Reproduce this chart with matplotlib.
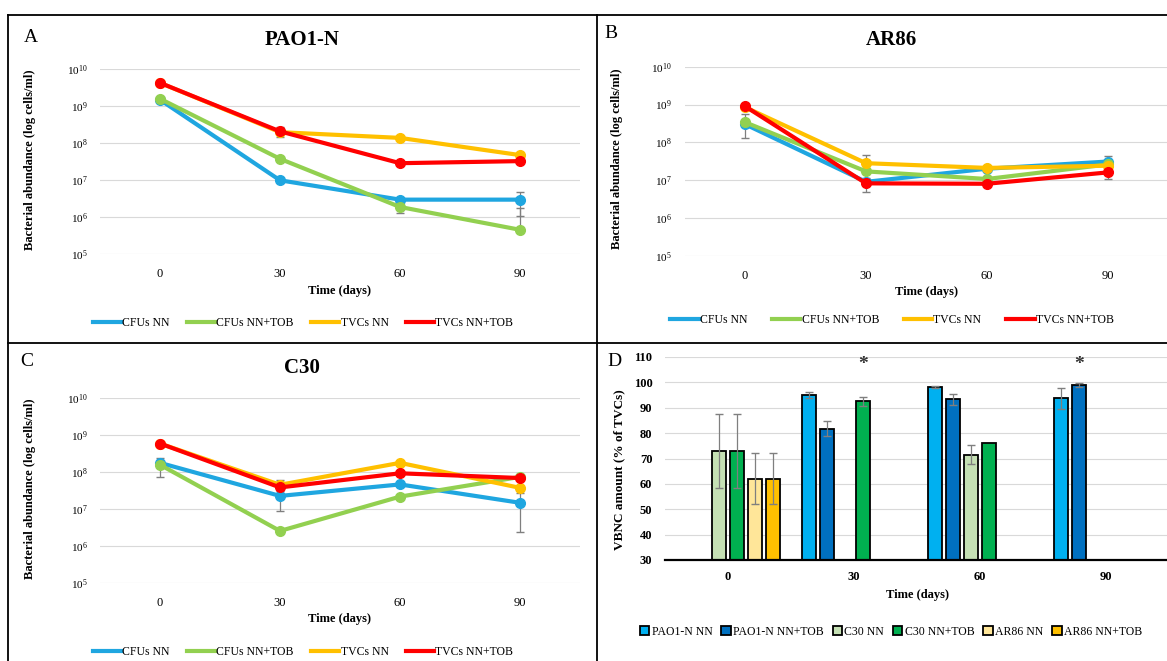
""" Bacterial abundance and VBNC amount over time (panels A-D). """

import matplotlib
matplotlib.use("Agg")
import matplotlib.pyplot as plt
from matplotlib.lines import Line2D
import numpy as np

plt.rcParams['font.family'] = ['Liberation Serif', 'DejaVu Serif']
plt.rcParams['mathtext.fontset'] = 'custom'
plt.rcParams['mathtext.rm'] = 'Liberation Serif'

# ---- data ----
days = ['0', '30', '60', '90']
series_names = ['CFUs NN', 'CFUs NN+TOB', 'TVCs NN', 'TVCs NN+TOB']
series_colors = ['#1FA6E0', '#92D050', '#FFC000', '#FF0000']

# PAO1-N (cells/ml)
pao_cfu_nn = [1.5e9, 1.0e7, 3.0e6, 3.0e6]
pao_cfu_tob = [1.6e9, 3.8e7, 1.9e6, 4.6e5]
pao_tvc_nn = [4.3e9, 2.0e8, 1.4e8, 4.8e7]
pao_tvc_tob = [4.3e9, 2.1e8, 2.9e7, 3.3e7]
pao_err = [[0, 0, 0.3e6, 1.9e6],
           [0, 0, 0.6e6, 1.35e6],
           [0, 0, 0, 0],
           [0, 0.6e8, 0, 0]]

# AR86 (cells/ml)
ar_cfu_nn = [3.0e8, 9.0e6, 2.0e7, 3.1e7]
ar_cfu_tob = [3.4e8, 1.7e7, 1.07e7, 2.6e7]
ar_tvc_nn = [8.5e8, 2.8e7, 2.1e7, 2.4e7]
ar_tvc_tob = [9.0e8, 8.2e6, 8.0e6, 1.6e7]
ar_err = [[0, 0, 0, 1.2e7],
          [2.1e8, 0, 0.2e7, 0],
          [0, 1.9e7, 0, 0],
          [0, 3.3e6, 0, 0.5e7]]

# C30 (cells/ml)
c30_cfu_nn = [1.8e8, 2.3e7, 4.7e7, 1.5e7]
c30_cfu_tob = [1.6e8, 2.6e6, 2.2e7, 7.5e7]
c30_tvc_nn = [6.0e8, 4.6e7, 1.8e8, 3.8e7]
c30_tvc_tob = [6.0e8, 3.9e7, 9.4e7, 7.0e7]
c30_err = [[0, 1.4e7, 0, 1.25e7],
           [0.85e8, 0, 0, 0],
           [0, 1.5e7, 0, 0],
           [0, 0, 0, 0]]

# VBNC amount (% of TVCs); None = no bar
vbnc_names = ['PAO1-N NN', 'PAO1-N NN+TOB', 'C30 NN', 'C30 NN+TOB', 'AR86 NN', 'AR86 NN+TOB']
vbnc_colors = ['#00B0F0', '#0070C0', '#C5E0B4', '#00B050', '#FFE699', '#FFC000']
vbnc_pao_nn = [None, 95.0, 98.0, 93.7]
vbnc_pao_tob = [None, 81.7, 93.3, 98.8]
vbnc_c30_nn = [73.0, None, 71.5, None]
vbnc_c30_tob = [73.0, 92.5, 76.0, None]
vbnc_ar_nn = [62.0, None, None, None]
vbnc_ar_tob = [62.0, None, None, None]
vbnc_err = [[0, 1.2, 0.4, 4.0],
            [0, 3.0, 2.3, 0.8],
            [14.5, 0, 3.8, 0],
            [14.5, 1.8, 0, 0],
            [10.0, 0, 0, 0],
            [10.0, 0, 0, 0]]
star_days = [1, 3]
star_bar = [3, 1]

W, H = 1167, 661


def box(x0, y0, x1, y1):
    return [x0 / W, 1 - y1 / H, (x1 - x0) / W, (y1 - y0) / H]


def fx(x):
    return x / W


def fy(y):
    return 1 - y / H


fig = plt.figure(figsize=(W / 100, H / 100), dpi=100)


def line_panel(rect, values, errs, title, letter, title_xy, letter_xy, ylab_x, xlab_y, leg_xy, colsp):
    ax = fig.add_axes(box(*rect))
    x = np.arange(len(days))
    handles = []
    for vals, err, name, col in zip(values, errs, series_names, series_colors):
        vals = np.array(vals)
        err = np.array(err)
        m = err > 0
        if m.any():
            lo = np.where(err < vals, err, 0)
            ax.errorbar(x[m], vals[m], yerr=[lo[m], err[m]], fmt='none',
                        ecolor='#7f7f7f', elinewidth=0.9, capsize=3, zorder=2)
        h, = ax.plot(x, vals, color=col, lw=3, marker='o', ms=7, zorder=3, label=name)
        handles.append(h)
    ax.set_yscale('log')
    ax.set_ylim(1e5, 1e10)
    ax.set_xlim(-0.5, 3.5)
    ax.set_xticks(x)
    ax.set_xticklabels(days)
    ticks = [10.0 ** k for k in range(5, 11)]
    ax.set_yticks(ticks)
    ax.set_yticklabels([r'$\mathregular{10^{%d}}$' % k for k in range(5, 11)])
    ax.yaxis.set_minor_locator(matplotlib.ticker.NullLocator())
    ax.tick_params(axis='both', length=0, labelsize=9)
    ax.tick_params(axis='x', pad=10)
    ax.tick_params(axis='y', pad=9, labelsize=8)
    ax.grid(axis='y', color='#d9d9d9', lw=0.8)
    for s in ax.spines.values():
        s.set_visible(False)
    ax.set_axisbelow(True)
    fig.text(fx(title_xy[0]), fy(title_xy[1]), title, ha='center', va='center',
             fontsize=15, fontweight='bold')
    fig.text(fx(letter_xy[0]), fy(letter_xy[1]), letter, ha='center', va='center', fontsize=14)
    mid = (rect[1] + rect[3]) / 2
    fig.text(fx(ylab_x), fy(mid - 2), 'Bacterial abundance (log cells/ml)', rotation=90,
             ha='center', va='center', fontsize=9, fontweight='bold')
    fig.text(fx((rect[0] + rect[2]) / 2), fy(xlab_y), 'Time (days)', ha='center', va='center',
             fontsize=9, fontweight='bold')
    fig.legend(handles=handles, loc='center', bbox_to_anchor=(fx(leg_xy[0]), fy(leg_xy[1])),
               ncol=4, frameon=False, fontsize=8.5, handlelength=2.4, handletextpad=0.1,
               columnspacing=colsp, markerscale=0.0001)
    return ax


line_panel((100, 69.3, 580, 254.3),
           [pao_cfu_nn, pao_cfu_tob, pao_tvc_nn, pao_tvc_tob], pao_err,
           'PAO1-N', 'A', (302, 40), (31, 38), 30, 291, (303, 323), 1.45)
line_panel((684.5, 66.7, 1168.5, 255.7),
           [ar_cfu_nn, ar_cfu_tob, ar_tvc_nn, ar_tvc_tob], ar_err,
           'AR86', 'B', (891, 40), (611, 33), 617, 292, (892, 320), 2.1)
line_panel((100, 398.3, 580, 583.3),
           [c30_cfu_nn, c30_cfu_tob, c30_tvc_nn, c30_tvc_tob], c30_err,
           'C30', 'C', (302, 368), (27, 362), 30, 619, (303, 652), 1.45)

# ---- panel D: bars ----
axd = fig.add_axes(box(665, 357, 1169, 560))
xd = np.arange(len(days))
step = 0.143
width = 0.112
vbnc = [vbnc_pao_nn, vbnc_pao_tob, vbnc_c30_nn, vbnc_c30_tob, vbnc_ar_nn, vbnc_ar_tob]
bar_handles = []
for i, (vals, err, name, col) in enumerate(zip(vbnc, vbnc_err, vbnc_names, vbnc_colors)):
    pos = xd + (i - 2.5) * step
    keep = [j for j, v in enumerate(vals) if v is not None]
    heights = [vals[j] - 30 for j in keep]
    b = axd.bar(pos[keep], heights, width=width, bottom=30, color=col,
                edgecolor='black', linewidth=1.3, label=name, zorder=3)
    bar_handles.append(b)
    ekeep = [j for j in keep if err[j] > 0]
    axd.errorbar(pos[ekeep], [vals[j] for j in ekeep], yerr=[err[j] for j in ekeep],
                 fmt='none', ecolor='#7f7f7f', elinewidth=0.9, capsize=3, zorder=4)
for d, bi in zip(star_days, star_bar):
    axd.text(d + (bi - 2.5) * step, 107, '*', ha='center', va='center', fontsize=14,
             fontweight='bold', color='#333333')
axd.set_ylim(30, 110)
axd.set_xlim(-0.5, 3.5)
axd.set_yticks(range(30, 111, 10))
axd.set_xticks(xd)
axd.set_xticklabels(days)
axd.tick_params(axis='both', length=0, labelsize=9)
axd.tick_params(axis='y', pad=9)
axd.tick_params(axis='x', pad=8)
for lab in axd.get_xticklabels() + axd.get_yticklabels():
    lab.set_fontweight('bold')
axd.grid(axis='y', color='#d9d9d9', lw=0.8)
axd.set_axisbelow(True)
for k in ['left', 'right', 'top']:
    axd.spines[k].set_visible(False)
axd.spines['bottom'].set_linewidth(1.6)
axd.spines['bottom'].set_zorder(5)
fig.text(fx(614), fy(362), 'D', ha='center', va='center', fontsize=14)
fig.text(fx(619), fy(470), 'VBNC amount (% of TVCs)', rotation=90, ha='center', va='center',
         fontsize=9.5, fontweight='bold')
fig.text(fx(917), fy(595), 'Time (days)', ha='center', va='center', fontsize=9, fontweight='bold')
fig.legend(handles=bar_handles, loc='center', bbox_to_anchor=(fx(891), fy(632)), ncol=6,
           frameon=False, fontsize=8.5, handlelength=0.8, handleheight=0.8,
           handletextpad=0.2, columnspacing=0.75)

# ---- panel borders ----
lw = 1.3
for (x0, y0, x1, y1) in [(8, 15, W, 15), (8, 15, 8, H), (597, 15, 597, H), (8, 343, W, 343)]:
    fig.add_artist(Line2D([fx(x0), fx(x1)], [fy(y0), fy(y1)], color='black', lw=lw))

fig.savefig('out.png', dpi=100)
